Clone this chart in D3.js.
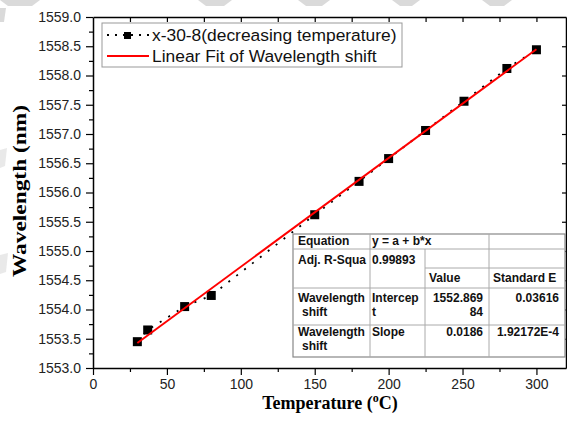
<!DOCTYPE html>
<meta charset="UTF-8">
<style>
body { margin: 0; background: #fff; }
.tick text { font: 14px Arial, "Liberation Sans", sans-serif; fill: #222; }
.domain { stroke: #000; stroke-width: 1.5px; }
.tick line { stroke: #000; stroke-width: 1.2px; }
.tbl text { font: bold 12px Arial, "Liberation Sans", sans-serif; fill: #111; }
</style>
<body>
<script src="https://d3js.org/d3.v7.min.js"></script>
<script>

// measured points (temperature in C, wavelength in nm)
var temps = [30, 37, 62, 80, 150, 180, 200, 225, 251, 280, 300];
var waves = [1553.45, 1553.65, 1554.05, 1554.24, 1555.62, 1556.19, 1556.58, 1557.06, 1557.56, 1558.12, 1558.44];

// linear fit
var fitIntercept = 1552.86984;
var fitSlope = 0.0186;
var fitRange = [30, 300];

var xTicks = [0, 50, 100, 150, 200, 250, 300];
var yTicks = [1553.0, 1553.5, 1554.0, 1554.5, 1555.0, 1555.5, 1556.0, 1556.5, 1557.0, 1557.5, 1558.0, 1558.5, 1559.0];

var legendLabels = ["x-30-8(decreasing temperature)", "Linear Fit of Wavelength shift"];

// fit result table, one array per row
var tblRow1 = ["Equation", "y = a + b*x", "", ""];
var tblRow2 = ["Adj. R-Squa", "0.99893", "", ""];
var tblRow3 = ["", "", "Value", "Standard E"];
var tblRow4 = [["Wavelength", "shift"], ["Intercep", "t"], ["1552.869", "84"], ["0.03616"]];
var tblRow5 = [["Wavelength", "shift"], ["Slope"], ["0.0186"], ["1.92172E-4"]];

var W = 567, H = 428;
var margin = {top: 17, right: 1, bottom: 60, left: 93};

var svg = d3.select("body").append("svg")
    .attr("width", W)
    .attr("height", H);

// faint watermark shapes behind the chart
var wm = svg.append("g").attr("fill", "#dadada");
[[0, 40], [198, 232], [298, 330], [392, 420], [482, 512]].forEach(function(s) {
  wm.append("path").attr("d", "M" + s[0] + ",0 L" + s[1] + ",0 L" + (s[1] - 8) + ",6 L" + (s[0] + 8) + ",6 Z");
});
wm.append("path").attr("d", "M0,8 L6,8 L4,22 L0,22 Z");
wm.append("path").attr("d", "M0,150 L7,148 L5,166 L0,168 Z").attr("opacity", 0.6);
wm.append("path").attr("d", "M0,255 L8,253 L6,272 L0,274 Z").attr("opacity", 0.6);

var x = d3.scaleLinear().domain([0, 320]).range([margin.left, W - margin.right]);
var y = d3.scaleLinear().domain([1553, 1559]).range([H - margin.bottom, margin.top]);

var fmt = d3.format(".1f");

// bottom axis: major outward, minor outward shorter
svg.append("g")
    .attr("transform", "translate(0," + y.range()[0] + ")")
    .call(d3.axisBottom(x).tickValues(d3.range(25, 320, 50)).tickSize(4).tickFormat(""))
    .call(function(g) { g.select(".domain").remove(); });
svg.append("g")
    .attr("transform", "translate(0," + y.range()[0] + ")")
    .call(d3.axisBottom(x).tickValues(xTicks).tickSize(7).tickSizeOuter(0).tickPadding(4));

// top axis: inward ticks
svg.append("g")
    .attr("transform", "translate(0," + y.range()[1] + ")")
    .call(d3.axisBottom(x).tickValues(d3.range(25, 320, 25)).tickSize(5).tickSizeOuter(0).tickFormat(""));

// left axis
svg.append("g")
    .attr("transform", "translate(" + x.range()[0] + ",0)")
    .call(d3.axisLeft(y).tickValues(d3.range(1553.25, 1559, 0.5)).tickSize(4).tickFormat(""))
    .call(function(g) { g.select(".domain").remove(); });
svg.append("g")
    .attr("transform", "translate(" + x.range()[0] + ",0)")
    .call(d3.axisLeft(y).tickValues(yTicks).tickSize(7).tickSizeOuter(0).tickPadding(5).tickFormat(fmt));

// right axis: inward ticks
svg.append("g")
    .attr("transform", "translate(" + x.range()[1] + ",0)")
    .call(d3.axisLeft(y).tickValues(yTicks.slice(1, -1)).tickSize(4).tickSizeOuter(0).tickFormat(""));

// axis titles
svg.append("text")
    .attr("transform", "translate(26," + 191 + ") rotate(-90)")
    .attr("text-anchor", "middle")
    .attr("textLength", 172)
    .attr("lengthAdjust", "spacingAndGlyphs")
    .style("font", "bold 18px 'Liberation Serif', 'Times New Roman', serif")
    .text("Wavelength (nm)");

var xt = svg.append("text")
    .attr("x", 330).attr("y", 409)
    .attr("text-anchor", "middle")
    .style("font", "bold 18px 'Liberation Serif', 'Times New Roman', serif");
xt.append("tspan").text("Temperature (");
xt.append("tspan").attr("dy", -7).style("font-size", "12px").text("o");
xt.append("tspan").attr("dy", 7).text("C)");

// data: dotted line and squares
var pts = temps.map(function(t, i) { return [t, waves[i]]; });
var line = d3.line().x(function(d) { return x(d[0]); }).y(function(d) { return y(d[1]); });

svg.append("path")
    .datum(pts)
    .attr("d", line)
    .attr("fill", "none")
    .attr("stroke", "#000")
    .attr("stroke-width", 1.8)
    .attr("stroke-dasharray", "2,8");

svg.append("g").selectAll("rect")
    .data(pts)
  .enter().append("rect")
    .attr("x", function(d) { return x(d[0]) - 4.5; })
    .attr("y", function(d) { return y(d[1]) - 4.5; })
    .attr("width", 9).attr("height", 9)
    .attr("fill", "#000");

// fit line
var fitPts = fitRange.map(function(t) { return [t, fitIntercept + fitSlope * t]; });
svg.append("path")
    .datum(fitPts)
    .attr("d", line)
    .attr("fill", "none")
    .attr("stroke", "#ff0000")
    .attr("stroke-width", 2);

// legend
var lg = svg.append("g").attr("transform", "translate(102,23)");
lg.append("rect").attr("width", 300).attr("height", 44)
    .attr("fill", "#fff").attr("stroke", "#999").attr("stroke-width", 1);
lg.append("line").attr("x1", 5).attr("x2", 47).attr("y1", 12).attr("y2", 12)
    .attr("stroke", "#000").attr("stroke-width", 1.8).attr("stroke-dasharray", "2,6");
lg.append("rect").attr("x", 22).attr("y", 9).attr("width", 7).attr("height", 7).attr("fill", "#000");
lg.append("line").attr("x1", 5).attr("x2", 47).attr("y1", 33).attr("y2", 33)
    .attr("stroke", "#ff0000").attr("stroke-width", 2);
lg.selectAll("text.lbl")
    .data(legendLabels)
  .enter().append("text")
    .attr("class", "lbl")
    .attr("x", 50)
    .attr("y", function(d, i) { return 18 + i * 21; })
    .style("font", "17.4px Arial, 'Liberation Sans', sans-serif")
    .attr("fill", "#111")
    .text(function(d) { return d; });

// fit table
var colX = [293, 370, 425, 489, 565];
var rowY = [234, 249, 268, 288, 325, 357];
var tb = svg.append("g").attr("class", "tbl");
tb.append("rect").attr("x", colX[0]).attr("y", rowY[0])
    .attr("width", colX[4] - colX[0]).attr("height", rowY[5] - rowY[0])
    .attr("fill", "#fff").attr("stroke", "#888").attr("stroke-width", 1.2);
var grid = tb.append("g").attr("stroke", "#aaa").attr("stroke-width", 1);
// horizontal lines
[[rowY[1], colX[0], colX[4]], [rowY[2], colX[2], colX[4]], [rowY[3], colX[0], colX[4]], [rowY[4], colX[0], colX[4]]]
  .forEach(function(l) { grid.append("line").attr("x1", l[1]).attr("x2", l[2]).attr("y1", l[0]).attr("y2", l[0]); });
// vertical lines
[[colX[1], rowY[0], rowY[5]], [colX[2], rowY[1], rowY[5]], [colX[3], rowY[0], rowY[5]]]
  .forEach(function(l) { grid.append("line").attr("x1", l[0]).attr("x2", l[0]).attr("y1", l[1]).attr("y2", l[2]); });

function cell(txt, cx, cy, right) {
  tb.append("text")
      .attr("x", cx).attr("y", cy)
      .attr("text-anchor", right ? "end" : "start")
      .text(txt);
}
cell(tblRow1[0], 298, 245); cell(tblRow1[1], 372, 245);
cell(tblRow2[0], 298, 264); cell(tblRow2[1], 372, 264);
cell(tblRow3[2], 429, 282); cell(tblRow3[3], 493, 282);
[[tblRow4, 302], [tblRow5, 336]].forEach(function(r) {
  var row = r[0], by = r[1];
  row[0].forEach(function(t, k) { cell(t, 298 + k * 4, by + k * 14); });
  row[1].forEach(function(t, k) { cell(t, 372, by + k * 14); });
  row[2].forEach(function(t, k) { cell(t, 483, by + k * 14, true); });
  row[3].forEach(function(t, k) { cell(t, 559, by + k * 14, true); });
});

</script>
</body>
